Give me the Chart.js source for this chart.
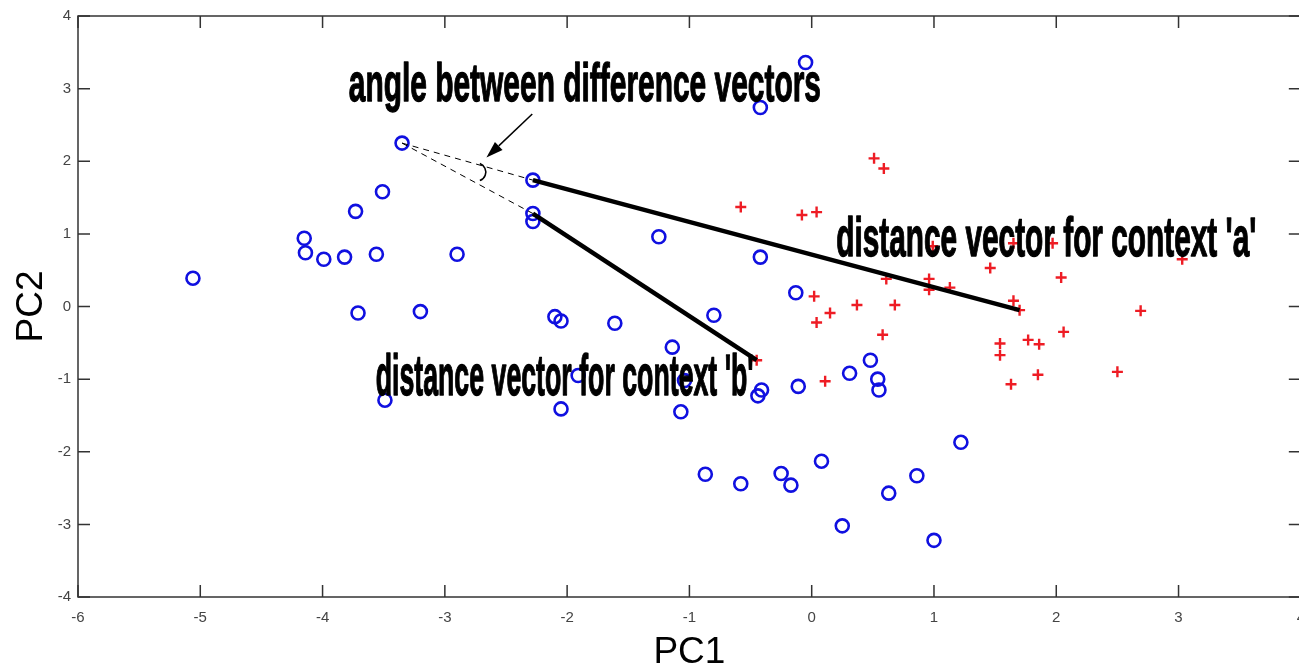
<!DOCTYPE html>
<html>
<head>
<meta charset="utf-8">
<script src="https://cdn.jsdelivr.net/npm/chart.js@4.4.1/dist/chart.umd.min.js"></script>
<style>
  html, body { margin: 0; padding: 0; background: #fff; overflow: hidden; }
  #wrap { position: relative; width: 1317px; height: 671px; }
</style>
</head>
<body>
<div id="wrap"><canvas id="pcaChart"></canvas></div>
<script>
// blue circles (PC1, PC2)
const blueX = [-5.06, -4.15, -4.14, -3.99, -3.82, -3.56, -3.73, -3.51, -3.35, -3.71, -3.20,
  -0.05, -0.42, -2.28, -2.28, -2.28, -2.90, -1.25, -0.42, -0.13, -2.10, -2.05, -1.61, -0.80,
  -1.14, -1.91, -2.05, -1.04, -1.07, -0.41, -0.44, -0.11, 0.31, 0.48, 0.54, 0.55,
  -0.87, -0.58, -0.25, -0.17, 0.08, 0.25, 1.22, 0.86, 0.63, 1.00, -3.49];
const blueY = [0.39, 0.94, 0.74, 0.65, 0.68, 0.72, 1.31, 1.58, 2.25, -0.09, -0.07,
  3.36, 2.74, 1.74, 1.28, 1.17, 0.72, 0.96, 0.68, 0.19, -0.14, -0.20, -0.23, -0.12,
  -0.56, -0.95, -1.41, -1.02, -1.45, -1.15, -1.23, -1.10, -0.92, -0.74, -1.00, -1.15,
  -2.31, -2.44, -2.30, -2.46, -2.13, -3.02, -1.87, -2.33, -2.57, -3.22, -1.29];

// red crosses (PC1, PC2)
const redX = [0.51, 0.59, -0.58, -0.08, 0.04, 0.99, 1.65, 1.97, 3.03, 1.46, 2.04, 0.61,
  0.96, 0.96, 1.13, 0.02, 0.37, 0.68, 1.65, 1.70, 2.69, 0.15, 0.04, 0.58, 2.06, 1.54,
  1.54, 1.77, 1.86, 1.85, 1.63, 2.50, 0.11, -0.45];
const redY = [2.04, 1.90, 1.37, 1.26, 1.30, 0.83, 0.87, 0.87, 0.65, 0.53, 0.40, 0.38,
  0.38, 0.23, 0.26, 0.14, 0.02, 0.02, 0.08, -0.05, -0.06, -0.09, -0.22, -0.39, -0.35, -0.51,
  -0.67, -0.46, -0.52, -0.94, -1.07, -0.90, -1.03, -0.74];

// distance vectors and their dashed extensions
const vectorA = [[-2.28, 1.74], [1.70, -0.05]];
const vectorB = [[-2.28, 1.28], [-0.45, -0.74]];
const angleVertex = [-3.35, 2.25];

const xTickValues = [-6, -5, -4, -3, -2, -1, 0, 1, 2, 3, 4];
const yTickValues = [-4, -3, -2, -1, 0, 1, 2, 3, 4];

// annotation texts: left, right, baseline (data units), ascent in px
const notes = [
  { text: "angle between difference vectors", x0: -3.79, x1: 0.08, y: 2.83, h: 39 },
  { text: "distance vector for context 'a'", x0: 0.196, x1: 3.64, y: 0.69, h: 40 },
  { text: "distance vector for context 'b'", x0: -3.57, x1: -0.47, y: -1.215, h: 42 }
];
const arrowFrom = [-2.285, 2.65];
const arrowTo = [-2.66, 2.05];
const arcCenter = [-2.739, 1.851];

const toPts = (xs, ys) => xs.map((x, i) => ({ x: x, y: ys[i] }));
const seg = (pair) => pair.map(p => ({ x: p[0], y: p[1] }));

const extras = {
  id: 'extras',
  beforeDatasetsDraw(chart) {
    const { ctx, chartArea: a, scales: { x, y } } = chart;
    ctx.save();
    ctx.strokeStyle = '#333';
    ctx.lineWidth = 1.5;
    ctx.strokeRect(a.left, a.top, a.right - a.left, a.bottom - a.top);
    const tl = 12;
    ctx.beginPath();
    xTickValues.forEach(v => {
      const px = x.getPixelForValue(v);
      ctx.moveTo(px, a.bottom); ctx.lineTo(px, a.bottom - tl);
      ctx.moveTo(px, a.top); ctx.lineTo(px, a.top + tl);
    });
    yTickValues.forEach(v => {
      const py = y.getPixelForValue(v);
      ctx.moveTo(a.left, py); ctx.lineTo(a.left + tl, py);
      ctx.moveTo(a.right, py); ctx.lineTo(a.right - tl, py);
    });
    ctx.stroke();
    ctx.restore();
  },
  afterDatasetsDraw(chart) {
    const { ctx, scales: { x, y } } = chart;
    const P = (p) => [x.getPixelForValue(p[0]), y.getPixelForValue(p[1])];
    ctx.save();

    // small angle arc
    const c = P(arcCenter);
    ctx.strokeStyle = '#000';
    ctx.lineWidth = 1.6;
    ctx.beginPath();
    ctx.arc(c[0], c[1], 9, -70 * Math.PI / 180, 70 * Math.PI / 180);
    ctx.stroke();

    // arrow
    const f = P(arrowFrom), t = P(arrowTo);
    const ang = Math.atan2(t[1] - f[1], t[0] - f[0]);
    const hl = 17, hw = 5.5;
    const bx = t[0] - hl * Math.cos(ang), by = t[1] - hl * Math.sin(ang);
    ctx.lineWidth = 1.5;
    ctx.beginPath();
    ctx.moveTo(f[0], f[1]); ctx.lineTo(bx, by);
    ctx.stroke();
    ctx.fillStyle = '#000';
    ctx.beginPath();
    ctx.moveTo(t[0], t[1]);
    ctx.lineTo(bx + hw * Math.sin(ang), by - hw * Math.cos(ang));
    ctx.lineTo(bx - hw * Math.sin(ang), by + hw * Math.cos(ang));
    ctx.closePath();
    ctx.fill();

    // annotation texts, stretched to the box they take in the picture
    ctx.font = 'bold 50px "Liberation Sans", Arial, sans-serif';
    ctx.textBaseline = 'alphabetic';
    ctx.textAlign = 'left';
    ctx.strokeStyle = '#000';
    ctx.lineJoin = 'round';
    notes.forEach(n => {
      const m = ctx.measureText(n.text);
      const left = x.getPixelForValue(n.x0), right = x.getPixelForValue(n.x1);
      const base = y.getPixelForValue(n.y);
      ctx.save();
      ctx.translate(left + 0.5, base);
      ctx.scale((right - left - 1) / m.width, (n.h - 0.5) / m.actualBoundingBoxAscent);
      ctx.lineWidth = 1.2;
      ctx.fillText(n.text, 0, 0);
      ctx.strokeText(n.text, 0, 0);
      ctx.restore();
    });
    ctx.restore();
  }
};

const tickFont = { family: '"Liberation Sans", Arial, sans-serif', size: 15 };

new Chart(document.getElementById('pcaChart'), {
  type: 'scatter',
  data: {
    datasets: [
      { data: seg(vectorA), showLine: true, borderColor: '#000', borderWidth: 4.5, pointRadius: 0, order: 0 },
      { data: seg(vectorB), showLine: true, borderColor: '#000', borderWidth: 4.5, pointRadius: 0, order: 0 },
      { data: seg([angleVertex, vectorA[0]]), showLine: true, borderColor: '#000', borderWidth: 1,
        borderDash: [6, 5], pointRadius: 0, order: 0 },
      { data: seg([angleVertex, vectorB[0]]), showLine: true, borderColor: '#000', borderWidth: 1,
        borderDash: [6, 5], pointRadius: 0, order: 0 },
      { data: toPts(blueX, blueY), pointStyle: 'circle', pointRadius: 6.5,
        borderColor: '#1010e0', backgroundColor: 'rgba(0,0,0,0)', borderWidth: 2.6, order: 1 },
      { data: toPts(redX, redY), pointStyle: 'cross', pointRadius: 5.5,
        borderColor: '#ee1c24', backgroundColor: '#ee1c24', borderWidth: 2.4, order: 1 }
    ]
  },
  options: {
    responsive: true,
    maintainAspectRatio: false,
    animation: false,
    layout: { padding: { top: 15, right: 11, left: 0, bottom: 0 } },
    plugins: { legend: { display: false }, tooltip: { enabled: false } },
    scales: {
      x: {
        type: 'linear', min: -6, max: 4,
        afterBuildTicks: (s) => { s.ticks = xTickValues.map(v => ({ value: v })); },
        afterFit: (s) => { s.height = 74; },
        grid: { display: false, drawTicks: false },
        border: { display: false },
        ticks: { font: tickFont, color: '#444', padding: 12, maxRotation: 0 },
        title: { display: true, text: 'PC1', color: '#000',
          font: { family: '"Liberation Sans", Arial, sans-serif', size: 37, lineHeight: 1 },
          padding: { top: 0, bottom: 0 } }
      },
      y: {
        type: 'linear', min: -4, max: 4,
        afterBuildTicks: (s) => { s.ticks = yTickValues.map(v => ({ value: v })); },
        afterFit: (s) => { s.width = 78; },
        grid: { display: false, drawTicks: false },
        border: { display: false },
        ticks: { font: tickFont, color: '#444', padding: 7 },
        title: { display: true, text: 'PC2', color: '#000',
          font: { family: '"Liberation Sans", Arial, sans-serif', size: 37, lineHeight: 1 },
          padding: { top: 13, bottom: 0 } }
      }
    }
  },
  plugins: [extras]
});
</script>
</body>
</html>
